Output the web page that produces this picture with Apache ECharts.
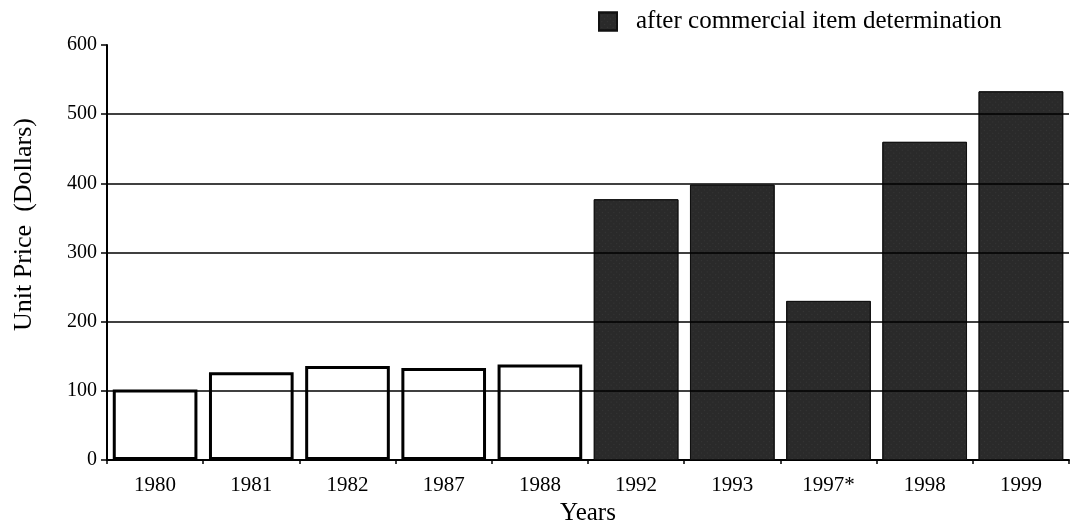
<!DOCTYPE html>
<html>
<head>
<meta charset="utf-8">
<script src="https://cdn.jsdelivr.net/npm/echarts@6/dist/echarts.min.js"></script>
<style>html,body{margin:0;padding:0;background:#fff;}#c{width:1070px;height:520px;}</style>
</head>
<body>
<div id="c"></div>
<script>
const years = ['1980', '1981', '1982', '1987', '1988', '1992', '1993', '1997*', '1998', '1999'];
const beforeValues = [102, 127, 136, 133, 138, null, null, null, null, null];
const afterValues = [null, null, null, null, null, 377, 398, 230, 460, 533];
const yTicks = [0, 100, 200, 300, 400, 500, 600];
const gridLineValues = [100, 200, 300, 400, 500];
const afterName = 'after commercial item determination';

const font = 'Liberation Serif';
const chart = echarts.init(document.getElementById('c'));
chart.setOption({
  animation: false,
  backgroundColor: '#fff',
  textStyle: { fontFamily: font, color: '#000' },
  legend: {
    data: [{ name: afterName, icon: 'rect' }],
    left: 598, top: 9, padding: 0,
    itemWidth: 18, itemHeight: 18, itemGap: 10,
    textStyle: { fontFamily: font, fontSize: 25, color: '#000', padding: [0, 0, 4, 14] }
  },
  grid: { left: 107, right: 1, top: 45, bottom: 60, outerBoundsMode: 'none', containLabel: false },
  xAxis: {
    type: 'category',
    data: years,
    name: 'Years',
    nameLocation: 'middle',
    nameGap: 35,
    nameTextStyle: { fontFamily: font, fontSize: 25, color: '#000' },
    axisLine: { lineStyle: { color: '#000', width: 2 } },
    axisTick: { show: true, length: 4, lineStyle: { color: '#000', width: 1.5 } },
    axisLabel: { fontFamily: font, fontSize: 21, color: '#000', margin: 15 }
  },
  yAxis: {
    type: 'value',
    min: yTicks[0], max: yTicks[yTicks.length - 1], interval: 100,
    name: 'Unit Price  (Dollars)',
    nameLocation: 'middle',
    nameGap: 70,
    nameTextStyle: { fontFamily: font, fontSize: 26, color: '#000', padding: [0, 0, 0, 56] },
    axisLine: { show: true, lineStyle: { color: '#000', width: 2 } },
    axisTick: { show: true, length: 6, lineStyle: { color: '#000', width: 1.5 } },
    axisLabel: { fontFamily: font, fontSize: 20, color: '#000', margin: 10 },
    splitLine: { show: false }
  },
  series: [
    {
      name: 'gridlines',
      type: 'line',
      data: [],
      z: 0,
      silent: true,
      markLine: {
        silent: true,
        symbol: ['none', 'none'],
        label: { show: false },
        lineStyle: { color: '#000', width: 1.5, type: 'solid' },
        data: gridLineValues.map(v => ({ yAxis: v }))
      }
    },
    {
      name: 'before',
      type: 'bar',
      data: beforeValues,
      barCategoryGap: '12%',
      barGap: '-100%',
      itemStyle: { color: '#fff', borderColor: '#000', borderWidth: 3 }
    },
    {
      name: afterName,
      type: 'bar',
      data: afterValues,
      barCategoryGap: '12%',
      barGap: '-100%',
      itemStyle: {
        color: '#2a2a2a',
        borderColor: '#111',
        borderWidth: 1,
        decal: {
          symbol: 'rect',
          symbolSize: 0.35,
          color: 'rgba(255,255,255,0.35)',
          dashArrayX: [1, 3],
          dashArrayY: [1, 3],
          rotation: 0.785
        }
      }
    }
  ]
});
</script>
</body>
</html>
